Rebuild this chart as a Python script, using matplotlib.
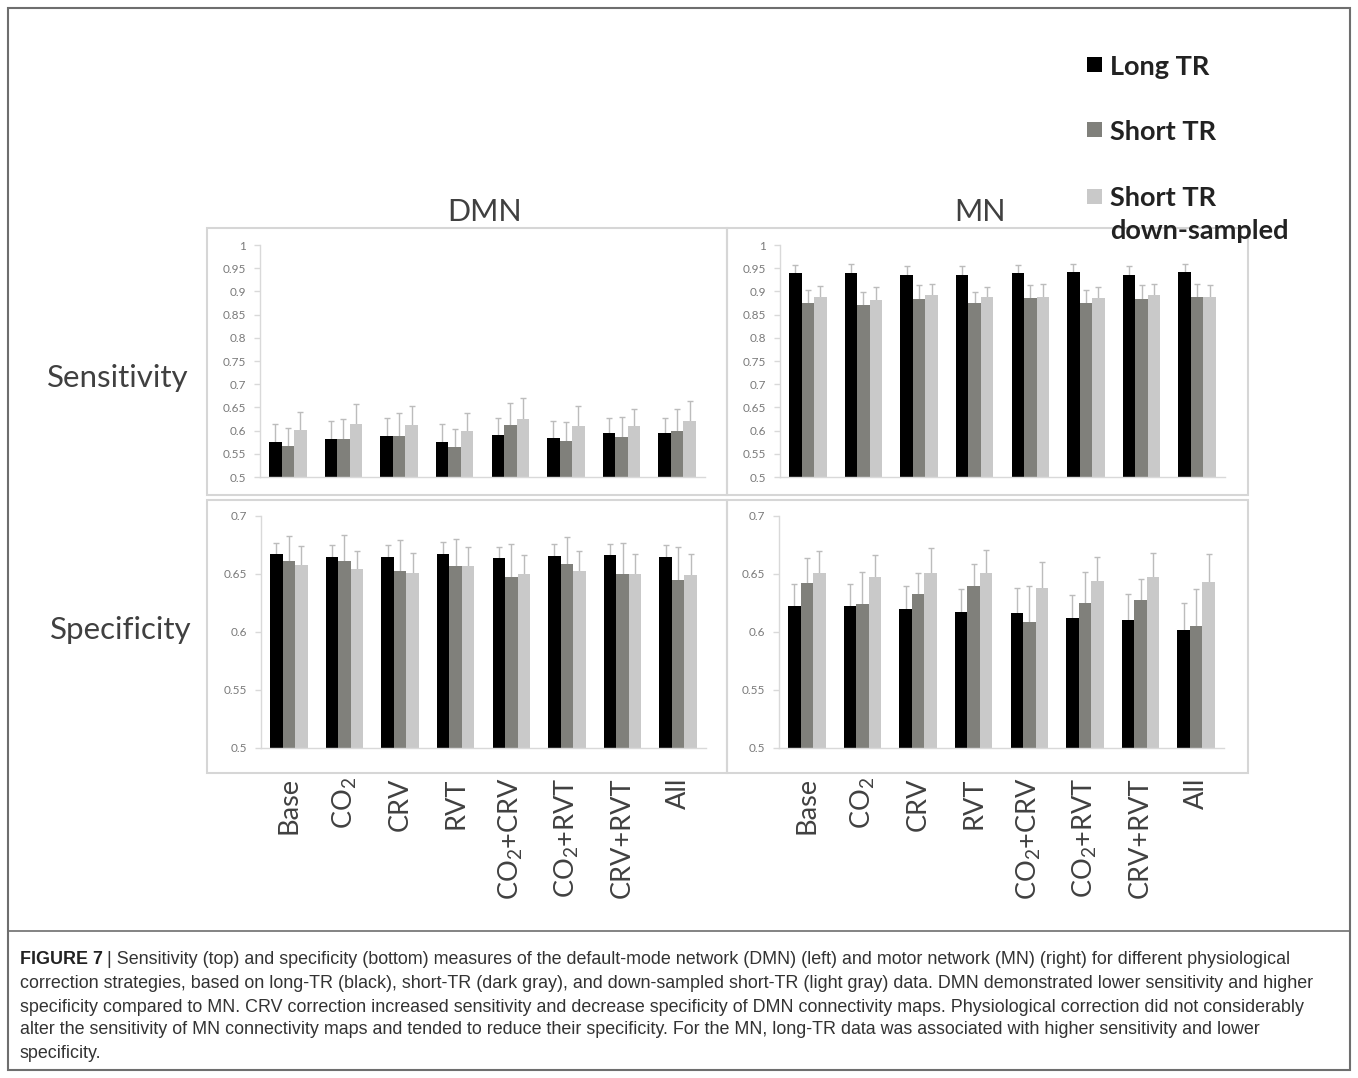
import numpy as np
import matplotlib
matplotlib.use("Agg")
import matplotlib.pyplot as plt
from matplotlib import font_manager
from matplotlib.patches import Rectangle
from matplotlib.lines import Line2D

plt.rcParams['font.family'] = ['Lato', 'DejaVu Sans']
plt.rcParams['mathtext.fontset'] = 'custom'
plt.rcParams['mathtext.rm'] = 'Lato'
plt.rcParams['mathtext.it'] = 'Lato:italic'

# ---- data ----
categories = ["Base", "CO$_2$", "CRV", "RVT", "CO$_2$+CRV", "CO$_2$+RVT", "CRV+RVT", "All"]
series = ["Long TR", "Short TR", "Short TR\ndown-sampled"]
colors = ["#000000", "#80807b", "#c9c9c9"]

# DMN sensitivity
dmn_sens_long = [0.575, 0.581, 0.588, 0.575, 0.590, 0.583, 0.594, 0.594]
dmn_sens_short = [0.567, 0.581, 0.588, 0.565, 0.611, 0.577, 0.586, 0.599]
dmn_sens_down = [0.601, 0.615, 0.611, 0.599, 0.626, 0.609, 0.609, 0.621]
dmn_sens_long_err = [0.040, 0.039, 0.039, 0.040, 0.038, 0.038, 0.034, 0.034]
dmn_sens_short_err = [0.039, 0.043, 0.049, 0.038, 0.049, 0.042, 0.043, 0.048]
dmn_sens_down_err = [0.039, 0.043, 0.042, 0.039, 0.044, 0.044, 0.038, 0.043]

# MN sensitivity
mn_sens_long = [0.939, 0.940, 0.936, 0.936, 0.939, 0.942, 0.936, 0.942]
mn_sens_short = [0.874, 0.870, 0.884, 0.875, 0.886, 0.874, 0.884, 0.889]
mn_sens_down = [0.888, 0.882, 0.892, 0.888, 0.889, 0.886, 0.892, 0.889]
mn_sens_long_err = [0.018, 0.018, 0.018, 0.018, 0.018, 0.017, 0.018, 0.017]
mn_sens_short_err = [0.028, 0.029, 0.029, 0.024, 0.027, 0.028, 0.029, 0.028]
mn_sens_down_err = [0.023, 0.028, 0.025, 0.022, 0.026, 0.024, 0.025, 0.024]

# DMN specificity
dmn_spec_long = [0.667, 0.665, 0.665, 0.6675, 0.6635, 0.6655, 0.666, 0.665]
dmn_spec_short = [0.661, 0.661, 0.6525, 0.657, 0.647, 0.659, 0.650, 0.645]
dmn_spec_down = [0.658, 0.654, 0.651, 0.657, 0.650, 0.653, 0.650, 0.649]
dmn_spec_long_err = [0.010, 0.010, 0.010, 0.010, 0.010, 0.010, 0.010, 0.010]
dmn_spec_short_err = [0.022, 0.023, 0.027, 0.023, 0.029, 0.023, 0.027, 0.028]
dmn_spec_down_err = [0.016, 0.016, 0.017, 0.016, 0.016, 0.017, 0.017, 0.018]

# MN specificity
mn_spec_long = [0.622, 0.622, 0.620, 0.617, 0.6165, 0.612, 0.610, 0.602]
mn_spec_short = [0.642, 0.624, 0.6325, 0.640, 0.609, 0.625, 0.628, 0.605]
mn_spec_down = [0.651, 0.647, 0.651, 0.651, 0.638, 0.644, 0.647, 0.643]
mn_spec_long_err = [0.019, 0.019, 0.020, 0.020, 0.021, 0.020, 0.023, 0.023]
mn_spec_short_err = [0.022, 0.028, 0.018, 0.019, 0.031, 0.027, 0.018, 0.032]
mn_spec_down_err = [0.019, 0.019, 0.021, 0.020, 0.022, 0.021, 0.021, 0.024]

sens_ticks = [0.5, 0.55, 0.6, 0.65, 0.7, 0.75, 0.8, 0.85, 0.9, 0.95, 1.0]
spec_ticks = [0.5, 0.55, 0.6, 0.65, 0.7]

caption_lines = [
    "Sensitivity (top) and specificity (bottom) measures of the default-mode network (DMN) (left) and motor network (MN) (right) for different physiological",
    "correction strategies, based on long-TR (black), short-TR (dark gray), and down-sampled short-TR (light gray) data. DMN demonstrated lower sensitivity and higher",
    "specificity compared to MN. CRV correction increased sensitivity and decrease specificity of DMN connectivity maps. Physiological correction did not considerably",
    "alter the sensitivity of MN connectivity maps and tended to reduce their specificity. For the MN, long-TR data was associated with higher sensitivity and lower",
    "specificity.",
]

W, H = 1358, 1078
fig = plt.figure(figsize=(W / 100, H / 100), dpi=100)


def fx(px):
    return px / W


def fy(py):
    return 1 - py / H


def draw(ax, means, errs, ticks, bottom_labels):
    x = np.arange(len(categories))
    w = 0.225
    for i, (m, e) in enumerate(zip(means, errs)):
        pos = x + (i - 1) * w
        ax.errorbar(pos, m, yerr=e, fmt='none', ecolor='#bcbcbc', elinewidth=1,
                    capsize=2.2, capthick=1, zorder=1)
        ax.bar(pos, m, w, color=colors[i], zorder=2)
    ax.set_xlim(-0.5, len(categories) - 0.5)
    ax.set_ylim(ticks[0], ticks[-1])
    ax.set_yticks(ticks)
    ax.set_yticklabels(['{:g}'.format(t) for t in ticks])
    ax.tick_params(axis='y', length=4, width=1, color='#d9d9d9', labelsize=8.5,
                   labelcolor='#7a7a7a', pad=6)
    for s in ['top', 'right']:
        ax.spines[s].set_visible(False)
    for s in ['left', 'bottom']:
        ax.spines[s].set_color('#d9d9d9')
        ax.spines[s].set_linewidth(1)
    ax.set_xticks(x)
    if bottom_labels:
        ax.set_xticklabels(categories, rotation=90, fontsize=19.5, color='#404040')
        ax.tick_params(axis='x', length=0, pad=21)
    else:
        ax.set_xticklabels([])
        ax.tick_params(axis='x', length=0)
    ax.patch.set_alpha(0)


ax_tl = fig.add_axes([fx(260), fy(477), fx(705) - fx(260), (477 - 245) / H])
ax_tr = fig.add_axes([fx(780), fy(477), fx(1225) - fx(780), (477 - 245) / H])
ax_bl = fig.add_axes([fx(261), fy(748), fx(706) - fx(261), (748 - 516) / H])
ax_br = fig.add_axes([fx(779), fy(748), fx(1224) - fx(779), (748 - 516) / H])

draw(ax_tl, [dmn_sens_long, dmn_sens_short, dmn_sens_down],
     [dmn_sens_long_err, dmn_sens_short_err, dmn_sens_down_err], sens_ticks, False)
draw(ax_tr, [mn_sens_long, mn_sens_short, mn_sens_down],
     [mn_sens_long_err, mn_sens_short_err, mn_sens_down_err], sens_ticks, False)
draw(ax_bl, [dmn_spec_long, dmn_spec_short, dmn_spec_down],
     [dmn_spec_long_err, dmn_spec_short_err, dmn_spec_down_err], spec_ticks, True)
draw(ax_br, [mn_spec_long, mn_spec_short, mn_spec_down],
     [mn_spec_long_err, mn_spec_short_err, mn_spec_down_err], spec_ticks, True)

# panel boxes
for (x0, y0, x1, y1) in [(207, 228, 727, 495), (727, 228, 1248, 495),
                         (207, 500, 727, 773), (727, 500, 1248, 773)]:
    fig.patches.append(Rectangle((fx(x0), fy(y1)), fx(x1) - fx(x0), (y1 - y0) / H,
                                 transform=fig.transFigure, fill=False,
                                 edgecolor='#d6d6d6', linewidth=1.5))

# outer frame and caption separator
fig.patches.append(Rectangle((fx(8), fy(1070)), fx(1350) - fx(8), (1070 - 8) / H,
                             transform=fig.transFigure, fill=False,
                             edgecolor='#6e6e6e', linewidth=1.5))
fig.lines.append(Line2D([fx(8), fx(1350)], [fy(931), fy(931)],
                        transform=fig.transFigure, color='#6e6e6e', linewidth=1.2))

# titles
fig.text(fx(485), fy(212), "DMN", fontsize=22, color='#404040', ha='center', va='center')
fig.text(fx(980), fy(212), "MN", fontsize=22, color='#404040', ha='center', va='center')
fig.text(fx(118), fy(378), "Sensitivity", fontsize=22.5, color='#404040', ha='center', va='center')
fig.text(fx(121), fy(630), "Specificity", fontsize=22.5, color='#404040', ha='center', va='center')

# legend
leg_y = [65, 130, 197]
for c, lab, yy in zip(colors, series, leg_y):
    fig.patches.append(Rectangle((fx(1087), fy(yy + 7)), fx(15), 15 / H,
                                 transform=fig.transFigure, color=c, linewidth=0))
    if '\n' in lab:
        fig.text(fx(1110), fy(186), lab, fontsize=19.5, fontweight='bold', color='#222222',
                 ha='left', va='top', linespacing=1.45)
    else:
        fig.text(fx(1110), fy(yy), lab, fontsize=19.5, fontweight='bold', color='#222222',
                 ha='left', va='center_baseline')

# caption
cap_names = {f.name for f in font_manager.fontManager.ttflist}
cap_font = 'Liberation Sans Narrow' if 'Liberation Sans Narrow' in cap_names else 'Liberation Sans'
renderer = fig.canvas.get_renderer()
cap_y = [960, 983, 1007, 1030, 1053]
size = 11.5
head = fig.text(fx(20), fy(cap_y[0]), "FIGURE 7", family=cap_font, fontweight='bold',
                fontsize=size, color='#222222', va='center')
bb = head.get_window_extent(renderer)
body = fig.text(bb.x1 / W + fx(4), fy(cap_y[0]), "| " + caption_lines[0], family=cap_font,
                fontsize=size, color='#333333', va='center')
ext = body.get_window_extent(renderer).x1
size = size * (1293 - 20) / (ext - 20)
head.set_fontsize(size)
bb = head.get_window_extent(renderer)
body.set_fontsize(size)
body.set_position((bb.x1 / W + fx(4), fy(cap_y[0])))
for line, yy in zip(caption_lines[1:], cap_y[1:]):
    fig.text(fx(20), fy(yy), line, family=cap_font, fontsize=size, color='#333333', va='center')

fig.savefig("out.png", dpi=100)
